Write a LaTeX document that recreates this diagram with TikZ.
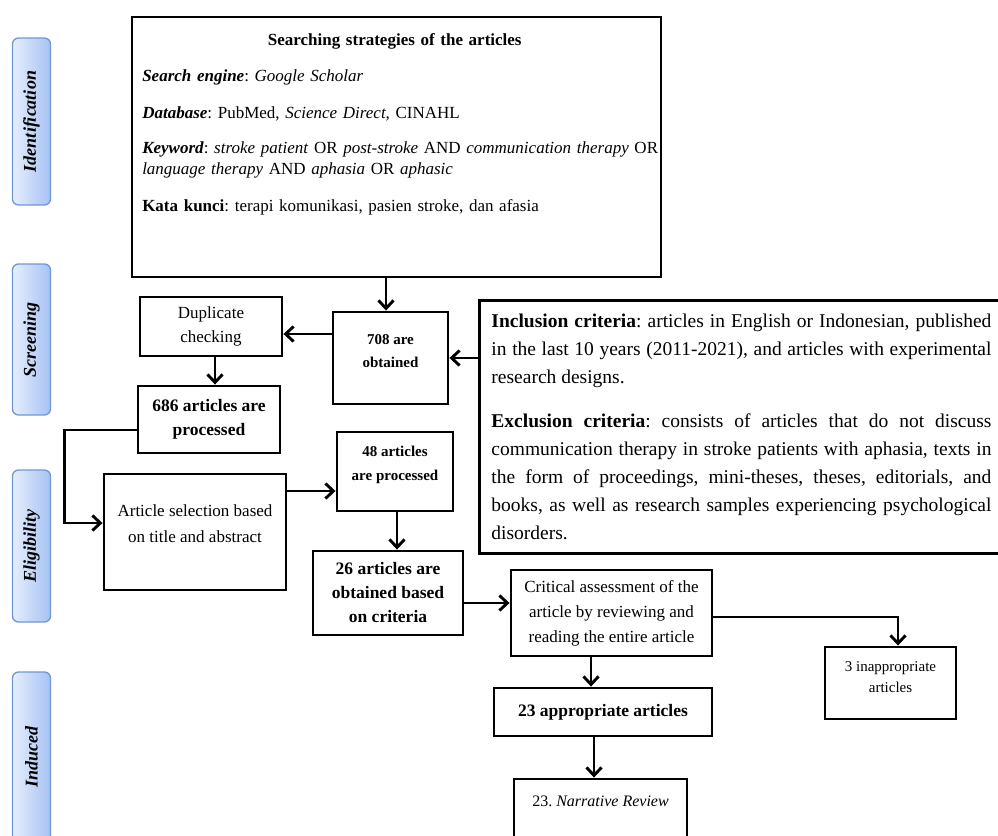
\documentclass[tikz,border=0pt]{standalone}
\usepackage{fontspec}
\setmainfont{Liberation Serif}
\frenchspacing
\usetikzlibrary{arrows.meta,positioning}
\definecolor{stageA}{HTML}{E6EEFD}
\definecolor{stageB}{HTML}{A6C2F4}
\definecolor{stageline}{HTML}{7098D2}
\begin{document}
\begin{tikzpicture}[x=1pt,y=-1pt,
 box/.style={draw,line width=2.9pt,inner sep=0pt,align=center},
 txt/.style={inner sep=0pt,align=center},
 arr/.style={line width=2.9pt,-{Straight Barb[length=8pt,width=15pt]}},
 stage/.style={draw=stageline,line width=1.3pt,rounded corners=6pt,left color=stageA,right color=stageB,minimum width=38pt,inner sep=0pt},
 stagetxt/.style={rotate=90,inner sep=0pt,font=\fontsize{18}{18}\selectfont\bfseries\itshape}]
\useasboundingbox (0,0) rectangle (998,835);
\node[stage,minimum height=167pt] (ident) at (31.5,121.5) {};
\node[stagetxt] (identtxt) at (ident) {Identification};
\node[stage,minimum height=151pt] (screen) at (31.5,339.5) {};
\node[stagetxt] (screentxt) at (screen) {Screening};
\node[stage,minimum height=152pt] (elig) at (31.5,546) {};
\node[stagetxt] (eligtxt) at (elig) {Eligibility};
\node[stage,minimum height=170pt] (induc) at (31.5,757) {};
\node[stagetxt] (induetxt) at (induc) {Induced};

\node[box,minimum width=529pt,minimum height=260pt] (search) at (396.5,147) {};
\node[txt,below right=18pt and 11.5pt of search.north west,text width=530pt,align=left,font=\fontsize{17}{21}\selectfont] (searchtxt)
 {\makebox[505pt][c]{\bfseries Searching strategies of the articles}\\[15pt]
 \textbf{\textit{Search engine}}: \textit{Google Scholar}\\[16pt]
 \textbf{\textit{Database}}: PubMed, \textit{Science Direct}, CINAHL\\[14pt]
 \textbf{\textit{Keyword}}: \textit{stroke patient} OR \textit{post-stroke} AND \textit{communication therapy} OR\\
 \textit{language therapy} AND \textit{aphasia} OR \textit{aphasic}\\[16pt]
 \textbf{Kata kunci}: terapi komunikasi, pasien stroke, dan afasia};
\node[box,minimum width=142pt,minimum height=59pt,font=\fontsize{17}{24}\selectfont] (dup) at (211,326.5) {Duplicate\\checking};
\node[box,minimum width=115pt,minimum height=92pt] (got) at (390.5,358) {};
\node[txt,font=\fontsize{15}{23}\selectfont\bfseries] (gottxt) at ([yshift=7pt]got.center) {708 are\\obtained};
\node[box,anchor=north west,minimum width=524pt,minimum height=253pt,text width=500pt,inner xsep=12pt,align=justify,font=\fontsize{19.5}{28}\selectfont] (crit) at (478,299)
 {\textbf{Inclusion criteria}: articles in English or Indonesian, published\linebreak
 in the last 10 years (2011-2021), and articles with experimental\linebreak
 research designs.\\[16pt]
 \textbf{Exclusion criteria}: consists of articles that do not discuss\linebreak
 communication therapy in stroke patients with aphasia, texts in\linebreak
 the form of proceedings, mini-theses, theses, editorials, and\linebreak
 books, as well as research samples experiencing psychological\linebreak
 disorders.};
\node[box,minimum width=142pt,minimum height=67pt,font=\fontsize{17.5}{24}\selectfont\bfseries] (proc) at (209,419.5) {686 articles are\\processed};
\node[box,minimum width=182pt,minimum height=116pt] (sel) at (195,532) {};
\node[txt,font=\fontsize{17}{26}\selectfont] (seltxt) at ([yshift=8pt]sel.center) {Article selection based\\on title and abstract};
\node[box,minimum width=116pt,minimum height=79pt] (got48) at (395,471.5) {};
\node[txt,font=\fontsize{15}{24}\selectfont\bfseries] (got48txt) at ([yshift=6.5pt]got48.center) {48 articles\\are processed};
\node[box,minimum width=150pt,minimum height=84pt,font=\fontsize{17.5}{24}\selectfont\bfseries] (crit26) at (388,593) {26 articles are\\obtained based\\on criteria};
\node[box,minimum width=201pt,minimum height=86pt,font=\fontsize{17}{25}\selectfont] (assess) at (611.5,613) {Critical assessment of the\\article by reviewing and\\reading the entire article};
\node[box,minimum width=131pt,minimum height=72pt] (inapp) at (890.5,683) {};
\node[txt,font=\fontsize{15}{21}\selectfont] (inapptxt) at ([yshift=6pt]inapp.center) {3 inappropriate\\articles};
\node[box,minimum width=218pt,minimum height=48pt,font=\fontsize{17.5}{24}\selectfont\bfseries] (approp) at (603,712) {23 appropriate articles};
\node[box,minimum width=173pt,minimum height=81pt] (review) at (600.5,819.5) {};
\node[txt,below=18pt of review.north,font=\fontsize{16}{20}\selectfont] (reviewtxt) {23. \textit{Narrative Review}};

\draw[arr] ([xshift=-4.5pt]got.north |- search.south) -- ([xshift=-4.5pt]got.north);
\draw[arr] ([yshift=24pt]got.west) -- ([yshift=24pt]got.west -| dup.east);
\draw[arr] (crit.west |- got) -- (got.east);
\draw[arr] ([xshift=4pt]dup.south) -- ([xshift=4pt]dup.south |- proc.north);
\draw[arr] ([yshift=-10.5pt]proc.west) -- ++(-72,0) |- ([yshift=9pt]sel.west);
\draw[arr] ([yshift=41pt]sel.east) -- ([yshift=41pt]sel.east -| got48.west);
\draw[arr] ([xshift=2pt]got48.south) -- ([xshift=2pt]got48.south |- crit26.north);
\draw[arr] ([yshift=-10pt]crit26.east) -- ([yshift=-10pt]crit26.east -| assess.west);
\draw[arr] ([yshift=-4pt]assess.east) -| ([xshift=7.5pt]inapp.north);
\draw[arr] ([xshift=-20.5pt]assess.south) -- ([xshift=-20.5pt]assess.south |- approp.north);
\draw[arr] ([xshift=-9pt]approp.south) -- ([xshift=-9pt]approp.south |- review.north);
\end{tikzpicture}
\end{document}
